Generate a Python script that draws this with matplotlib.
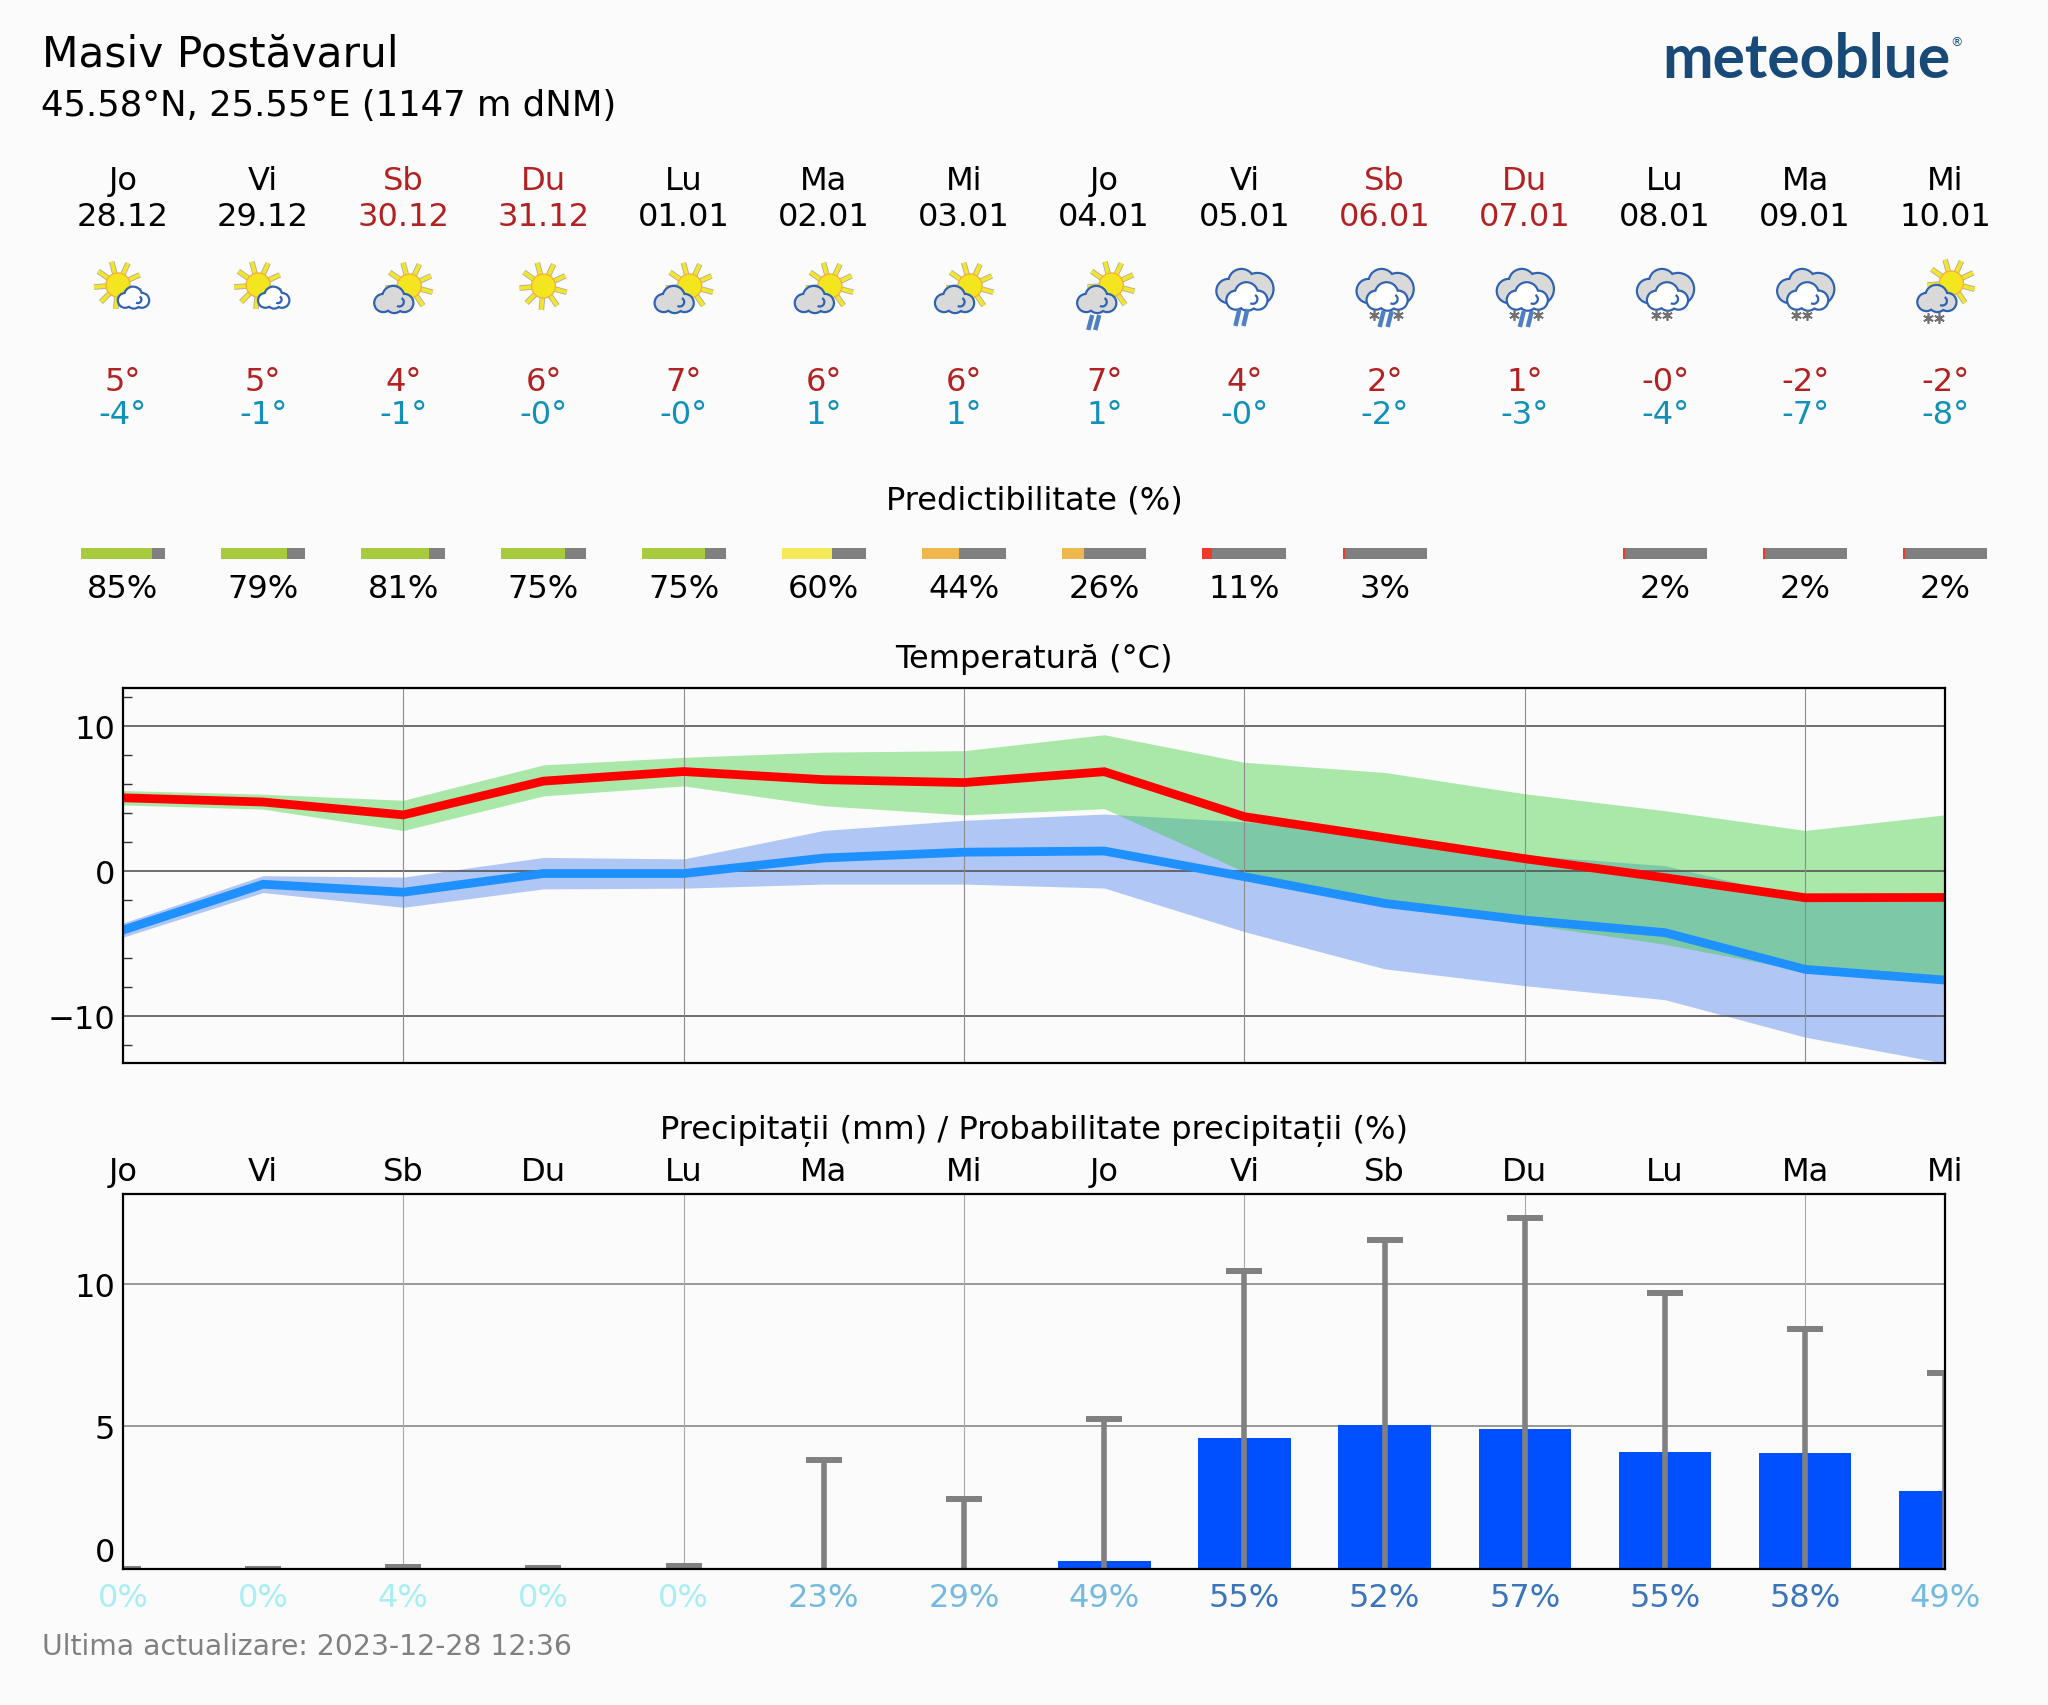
import numpy as np
import matplotlib
matplotlib.use("Agg")
import matplotlib.pyplot as plt
from matplotlib.patches import Circle, Arc
from matplotlib.ticker import MultipleLocator, FixedLocator

# ---------- data ----------
day_names = ["Jo","Vi","Sb","Du","Lu","Ma","Mi","Jo","Vi","Sb","Du","Lu","Ma","Mi"]
dates = ["28.12","29.12","30.12","31.12","01.01","02.01","03.01","04.01","05.01","06.01","07.01","08.01","09.01","10.01"]
weekend = [False,False,True,True,False,False,False,False,False,True,True,False,False,False]
tmax_labels = ["5°","5°","4°","6°","7°","6°","6°","7°","4°","2°","1°","-0°","-2°","-2°"]
tmin_labels = ["-4°","-1°","-1°","-0°","-0°","1°","1°","1°","-0°","-2°","-3°","-4°","-7°","-8°"]
icons = ["sun_small","sun_small","sun_cloud","sun","sun_cloud","sun_cloud","sun_cloud","sun_rain",
         "rain","rain_snow","rain_snow","snow","snow","sun_snow"]
predict = [85,79,81,75,75,60,44,26,11,3,None,2,2,2]
temp_max = [5.05,4.76,3.87,6.2,6.86,6.3,6.1,6.85,3.75,2.3,0.85,-0.46,-1.84,-1.82]
temp_max_hi = [5.55,5.3,4.88,7.32,7.84,8.2,8.3,9.4,7.5,6.8,5.33,4.16,2.8,3.88]
temp_max_lo = [4.56,4.27,2.79,5.18,5.87,4.5,3.87,4.3,-0.05,-2.4,-3.65,-5.05,-6.9,-7.6]
temp_min = [-4.07,-0.91,-1.46,-0.17,-0.17,0.9,1.3,1.38,-0.39,-2.23,-3.38,-4.25,-6.78,-7.52]
temp_min_hi = [-3.58,-0.32,-0.42,0.94,0.84,2.8,3.5,3.93,3.4,2.45,1.1,0.37,-1.9,-1.8]
temp_min_lo = [-4.56,-1.48,-2.5,-1.23,-1.18,-0.9,-0.9,-1.17,-4.18,-6.74,-7.9,-8.87,-11.45,-13.26]
precip = [0,0,0,0,0,0,0,0.27,4.57,5.06,4.9,4.08,4.05,2.72]
precip_hi = [0,0,0.05,0.01,0.08,3.83,2.45,5.27,10.45,11.54,12.3,9.68,8.4,6.86]
precip_prob = [0,0,4,0,0,23,29,49,55,52,57,55,58,49]

W, H = 2048, 1706
X0, X1 = 122.9, 1945.4
STEP = (X1 - X0) / 13
BG = "#fbfbfb"
RED_T = "#b22222"
BLUE_T = "#1190b8"
FS = 11.55

fig = plt.figure(figsize=(W/200, H/200), dpi=200, facecolor=BG)
x = np.arange(14)

def axes_px(top, bottom):
    return fig.add_axes([X0/W, 1-bottom/H, (X1-X0)/W, (bottom-top)/H])

# ---------- temperature ----------
ax = axes_px(689.3, 1063.5)
ax.set_facecolor(BG)
ax.fill_between(x, temp_min_lo, temp_min_hi, color=(65/255,120/255,235/255), alpha=0.4, lw=0, zorder=1)
ax.fill_between(x, temp_max_lo, temp_max_hi, color=(50/255,205/255,50/255), alpha=0.4, lw=0, zorder=1.1)
ax.plot(x, temp_min, color="#1e90ff", lw=3.15, solid_joinstyle="miter", zorder=4)
ax.plot(x, temp_max, color="#ff0000", lw=3.15, solid_joinstyle="miter", zorder=5)
ax.set_xlim(0, 13)
ax.set_ylim(-13.2, 12.6)
ax.yaxis.set_major_locator(FixedLocator([-10, 0, 10]))
ax.yaxis.set_minor_locator(MultipleLocator(2))
ax.xaxis.set_major_locator(MultipleLocator(2))
ax.tick_params(axis="x", length=0, labelbottom=False)
ax.tick_params(axis="y", which="major", length=0, labelsize=FS, pad=2.8)
ax.tick_params(axis="y", which="minor", direction="in", length=3.2, width=0.5, color="#333333")
ax.grid(axis="y", color="#555555", lw=0.6, zorder=3)
ax.set_axisbelow(False)
ax.xaxis.grid(False)
for v in range(2, 13, 2):
    ax.axvline(v, color="#8c8c8c", lw=0.4, zorder=3)
for s in ax.spines.values():
    s.set_linewidth(0.8); s.set_zorder(6)

# ---------- precipitation ----------
ax2 = axes_px(1195, 1569.5)
ax2.set_facecolor(BG)
ax2.bar(x, precip, width=0.66, color="#0050ff", zorder=2)
ax2.vlines(x, 0, precip_hi, color="#808080", lw=2.0, zorder=4)
ax2.plot(x, precip_hi, ls="none", marker="_", ms=13, mew=2.15, color="#808080", zorder=4)
ax2.set_xlim(0, 13)
ax2.set_ylim(0, 13.16)
ax2.set_yticks([0, 5, 10])
ax2.tick_params(axis="x", length=0, labelbottom=False)
ax2.tick_params(axis="y", length=0, labelsize=FS, pad=2.8)
ax2.get_yticklabels()[0].set_verticalalignment("bottom")
ax2.grid(axis="y", color="#999999", lw=0.7, zorder=1)
for v in range(2, 13, 2):
    ax2.axvline(v, color="#a8a8a8", lw=0.4, zorder=1)
ax2.set_axisbelow(True)
for s in ax2.spines.values():
    s.set_linewidth(0.8); s.set_zorder(6)

# ---------- predictability bars ----------
ax3 = axes_px(548.5, 559.5)
ax3.axis("off")
ax3.set_xlim(0, 13); ax3.set_ylim(0, 1)
def pcol(p):
    if p >= 70: return "#a7cb3c"
    if p >= 50: return "#f5e95a"
    if p >= 20: return "#efb84f"
    return "#ef3a2a"
for i, p in enumerate(predict):
    if p is None:
        continue
    f = 0.6 * p / 100
    ax3.barh(0.5, f, left=i-0.30, height=1, color=pcol(p), lw=0, clip_on=False)
    ax3.barh(0.5, 0.6-f, left=i-0.30+f, height=1, color="#808080", lw=0, clip_on=False)

# ---------- pixel overlay for text and icons ----------
ov = fig.add_axes([0, 0, 1, 1], zorder=10)
ov.set_xlim(0, W); ov.set_ylim(H, 0); ov.axis("off"); ov.patch.set_alpha(0)

def xpx(i): return X0 + i*STEP
def T(xp, y, s, **kw):
    kw.setdefault("ha", "center"); kw.setdefault("va", "baseline"); kw.setdefault("fontsize", FS)
    ov.text(xp, y, s, **kw)

T(42, 66, "Masiv Postăvarul", ha="left", fontsize=15.25)
T(41, 116, "45.58°N, 25.55°E (1147 m dNM)", ha="left", fontsize=12.8)
T(1662, 78, "meteoblue", ha="left", fontsize=21.8, family="Lato", fontweight="bold", color="#174a78")
T(1956, 46, "®", ha="center", fontsize=4.5, color="#174a78")
T(42, 1655, "Ultima actualizare: 2023-12-28 12:36", ha="left", color="#808080", fontsize=10.2)
mid = (X0 + X1) / 2
T(mid, 509, "Predictibilitate (%)")
T(mid, 668, "Temperatură (°C)")
T(mid, 1139, "Precipitații (mm) / Probabilitate precipitații (%)")

def prob_col(p):
    if p < 10: return "#a8eef5"
    if p < 50: return "#74b9e0"
    return "#3a75bb"

for i in range(14):
    c = RED_T if weekend[i] else "black"
    T(xpx(i), 190, day_names[i], color=c)
    T(xpx(i), 226, dates[i], color=c)
    T(xpx(i), 391, tmax_labels[i], color=RED_T)
    T(xpx(i), 424, tmin_labels[i], color=BLUE_T)
    if predict[i] is not None:
        T(xpx(i), 598, f"{predict[i]}%")
    T(xpx(i), 1181, day_names[i])
    T(xpx(i), 1607, f"{precip_prob[i]}%", color=prob_col(precip_prob[i]))

# ---------- icons ----------
CLOUD_EDGE = "#2f62b0"
DY = 3
def sun(cx, cy):
    cy += DY
    for a in np.deg2rad(np.arange(0, 360, 40) + 15):
        xs = [cx + 10*np.cos(a), cx + 24*np.cos(a)]
        ys = [cy + 10*np.sin(a), cy + 24*np.sin(a)]
        ov.plot(xs, ys, color="#aaaaaa", lw=2.0, solid_capstyle="butt", zorder=1)
        ov.plot(xs, ys, color="#f3e52a", lw=1.4, solid_capstyle="butt", zorder=1.1)
    ov.add_patch(Circle((cx, cy), 12, fc="#f4e61e", ec="#f5b040", lw=0.5, zorder=1.2))

def cloud(cx, cy, w, fill, z=2):
    cy += DY
    s = w / 38.0
    blobs = [(-11, 3, 8), (-1, -3, 10), (10, 3, 8), (0, 4, 8)]
    for dx, dy, r in blobs:
        ov.add_patch(Circle((cx+dx*s, cy+dy*s), r*s + 2.2, fc=CLOUD_EDGE, ec="none", zorder=z))
    for dx, dy, r in blobs:
        ov.add_patch(Circle((cx+dx*s, cy+dy*s), r*s, fc=fill, ec="none", zorder=z+0.1))
    ov.add_patch(Arc((cx+5*s, cy+2*s), 9*s, 9*s, theta1=-60, theta2=120, color=CLOUD_EDGE, lw=0.8, zorder=z+0.2))

def big_clouds(cx):
    for dx, dy, r in [(-16, -2, 11), (-3, -11, 12), (13, -4, 15)]:
        ov.add_patch(Circle((cx+dx, 291+DY+dy), r+2.2, fc=CLOUD_EDGE, ec="none", zorder=2))
        ov.add_patch(Circle((cx+dx, 291+DY+dy), r, fc="#d9d9d9", ec="none", zorder=2.1))
    cloud(cx+3, 295, 40, "white", z=2.5)

def rain(cx, dxs, y0=310, y1=327):
    for dx in dxs:
        ov.plot([cx+dx+2, cx+dx-2], [y0+DY-3, y1+DY-3], color="#4f7fc0", lw=1.6, solid_capstyle="butt", zorder=3)

def snow(cx, dxs, y):
    ov.plot([cx+d for d in dxs], [y+DY-1]*len(dxs), ls="none", marker=(6, 2, 0), ms=3.8, mew=0.6, color="#707070", zorder=3)

for i, kind in enumerate(icons):
    cx = xpx(i)
    if kind == "sun_small":
        sun(cx-5, 283); cloud(cx+11, 296, 30, "white")
    elif kind == "sun":
        sun(cx, 284)
    elif kind == "sun_cloud":
        sun(cx+6, 284); cloud(cx-9, 298, 38, "#d9d9d9")
    elif kind == "sun_rain":
        sun(cx+7, 283); cloud(cx-7, 298, 38, "#d9d9d9"); rain(cx, [-14, -7], 316, 331)
    elif kind == "rain":
        big_clouds(cx); rain(cx, [-7, 1])
    elif kind == "rain_snow":
        big_clouds(cx); rain(cx, [-3, 5], 312, 328); snow(cx, [-11, 13], 314)
    elif kind == "snow":
        big_clouds(cx); snow(cx, [-9, 2], 314)
    elif kind == "sun_snow":
        sun(cx+6, 281); cloud(cx-8, 297, 38, "#d9d9d9"); snow(cx, [-17, -6], 317)

fig.savefig("out.png", dpi=200, facecolor=BG)
